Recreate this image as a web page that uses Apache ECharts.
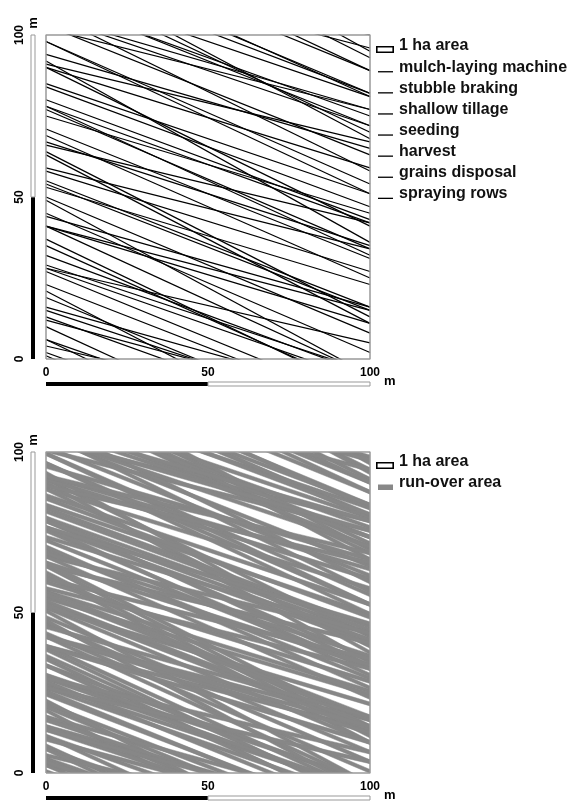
<!DOCTYPE html>
<html>
<head>
<meta charset="utf-8">
<script src="https://cdn.jsdelivr.net/npm/echarts@6/dist/echarts.min.js"></script>
<style>
  html, body { margin: 0; padding: 0; background: #fff; }
  #chart { width: 573px; height: 802px; }
</style>
</head>
<body>
<div id="chart"></div>
<script>
// track of each pass: y (m) where it enters at x = 0 and leaves at x = 100
const mulchStart = [143, 130, 117, 103, 90, 77, 63, 50, 37, 23, 10];
const mulchEnd = [93, 89, 70, 63, 41, 34, 11, 8, -11, -16, -36];
const stubbleStart = [137, 124, 111, 98, 85, 71, 58, 45, 32, 19, 6];
const stubbleEnd = [104, 82, 75, 54, 51, 31, 27, 2, -5, -22, -29];
const tillageStart = [127, 115, 102, 90, 78, 66, 53, 41, 29, 16, 4];
const tillageEnd = [100, 81, 77, 59, 42, 42, 23, 15, -4, -12, -19];
const seedingStart = [150, 136, 121, 107, 92, 78, 64, 49, 35, 21, 6];
const seedingEnd = [95, 89, 68, 58, 36, 32, 13, -5, -10, -31, -42];
const harvestStart = [141, 126, 112, 98, 84, 69, 55, 41, 27, 13, 1];
const harvestEnd = [103, 81, 72, 51, 47, 25, 16, -5, -14, -23, -42];
const grainsStart = [133, 120, 106, 94, 80, 67, 54, 41, 28, 15, 2];
const grainsEnd = [102, 82, 72, 65, 43, 35, 15, 11, -7, -18, -34];
const sprayStart = [122, 106, 91, 75, 59, 44, 28, 12];
const sprayEnd = [96, 77, 67, 45, 34, 16, 5, -15];

const opNames = ['mulch-laying machine', 'stubble braking', 'shallow tillage', 'seeding',
  'harvest', 'grains disposal', 'spraying rows'];
const opStarts = [mulchStart, stubbleStart, tillageStart, seedingStart, harvestStart, grainsStart, sprayStart];
const opEnds = [mulchEnd, stubbleEnd, tillageEnd, seedingEnd, harvestEnd, grainsEnd, sprayEnd];

// wheel tracks of a pass, offset (m) from the pass line, and half width (m) of one wheel track
const wheelOffsets = [-1.5, 1.5];
const wheelHalf = 0.6;

// 1 ha field boundary
const fieldX = [0, 100, 100, 0, 0];
const fieldY = [0, 0, 100, 100, 0];
const axisTicks = [0, 50, 100];

const FONT = 'Liberation Sans';
const chart = echarts.init(document.getElementById('chart'));

const rectIcon = 'path://M0,0 M0,7 L18,7 L18,14 L0,14 Z M1.6,8.6 L1.6,12.4 L16.4,12.4 L16.4,8.6 Z';
const lineIcon = 'path://M0,0 M2,11 L17,11 L17,12.3 L2,12.3 Z M18,14';
const areaIcon = 'path://M0,0 M2,8.5 L17,8.5 L17,14 L2,14 Z M18,14';

const grids = [
  { left: 46, top: 35, width: 324, height: 324 },
  { left: 46, top: 452, width: 324, height: 324 },
];

// every wheel track as [start, end] at x = 0 / x = 100
const wheelTracks = [];
opStarts.forEach((starts, k) => {
  starts.forEach((s, i) => {
    wheelOffsets.forEach((off) => wheelTracks.push([s + off, opEnds[k][i] + off]));
  });
});

const series = [];
opNames.forEach((name, k) => {
  series.push({
    name: name,
    type: 'lines',
    coordinateSystem: 'cartesian2d',
    xAxisIndex: 0,
    yAxisIndex: 0,
    clip: true,
    silent: true,
    lineStyle: { color: '#000', width: 1.2, opacity: 1 },
    data: opStarts[k].map((s, i) => ({ coords: [[0, s], [100, opEnds[k][i]]] })),
  });
});
series.push({
  name: 'run-over area',
  type: 'custom',
  coordinateSystem: 'cartesian2d',
  xAxisIndex: 1,
  yAxisIndex: 1,
  clip: true,
  silent: true,
  itemStyle: { color: '#878787' },
  data: wheelTracks,
  renderItem: function (params, api) {
    const s = api.value(0);
    const e = api.value(1);
    const pts = [
      api.coord([0, s - wheelHalf]),
      api.coord([100, e - wheelHalf]),
      api.coord([100, e + wheelHalf]),
      api.coord([0, s + wheelHalf]),
    ];
    return {
      type: 'polygon',
      shape: { points: pts },
      style: { fill: '#878787', stroke: '#878787', lineWidth: 0.5 },
    };
  },
});
[0, 1].forEach((g) => {
  series.push({
    name: '1 ha area',
    type: 'line',
    xAxisIndex: g,
    yAxisIndex: g,
    symbol: 'none',
    clip: false,
    silent: true,
    z: 5,
    lineStyle: { color: '#999', width: 1.5 },
    data: fieldX.map((x, i) => [x, fieldY[i]]),
  });
});

const legendText = { fontSize: 16, fontWeight: 'bold', color: '#111', fontFamily: FONT, lineHeight: 14 };

const option = {
  animation: false,
  textStyle: { fontFamily: FONT },
  grid: grids,
  xAxis: grids.map((g, i) => ({
    type: 'value',
    gridIndex: i,
    min: 0,
    max: 100,
    interval: 50,
    splitLine: { show: false },
    axisLine: { show: false },
    axisTick: { show: false },
    axisLabel: { fontSize: 12, fontWeight: 'bold', color: '#000', margin: 8 },
    name: 'm',
    nameLocation: 'end',
    nameGap: 6,
    nameTextStyle: { fontSize: 13, fontWeight: 'bold', color: '#000', verticalAlign: 'top', padding: [16, 0, 0, 0] },
  })),
  yAxis: grids.map((g, i) => ({
    type: 'value',
    gridIndex: i,
    min: 0,
    max: 100,
    interval: 50,
    splitLine: { show: false },
    axisLine: { show: false },
    axisTick: { show: false },
    axisLabel: { fontSize: 12, fontWeight: 'bold', color: '#000', rotate: 90, margin: 20 },
  })),
  legend: [
    {
      orient: 'vertical',
      left: 376,
      top: 38,
      padding: 0,
      itemWidth: 18,
      itemHeight: 14,
      itemGap: 5.1,
      selectedMode: false,
      textStyle: legendText,
      data: [{ name: '1 ha area', icon: rectIcon, itemStyle: { color: '#000', borderWidth: 0 } }]
        .concat(opNames.map((n) => ({ name: n, icon: lineIcon, itemStyle: { color: '#000', borderWidth: 0 } }))),
    },
    {
      orient: 'vertical',
      left: 376,
      top: 454,
      padding: 0,
      itemWidth: 18,
      itemHeight: 14,
      itemGap: 5,
      selectedMode: false,
      textStyle: legendText,
      data: [
        { name: '1 ha area', icon: rectIcon, itemStyle: { color: '#000', borderWidth: 0 } },
        { name: 'run-over area', icon: areaIcon, itemStyle: { color: '#888', borderWidth: 0 } },
      ],
    },
  ],
  series: series,
};
chart.setOption(option);

// scale bars along the left and bottom of each panel (black 0-50, white 50-100)
const graphics = [];
[0, 1].forEach((g) => {
  for (let i = 0; i < axisTicks.length - 1; i++) {
    const a = chart.convertToPixel({ gridIndex: g }, [axisTicks[i], axisTicks[i]]);
    const b = chart.convertToPixel({ gridIndex: g }, [axisTicks[i + 1], axisTicks[i + 1]]);
    const origin = chart.convertToPixel({ gridIndex: g }, [0, 0]);
    const black = i === 0;
    const style = black ? { fill: '#000' } : { fill: '#fff', stroke: '#999', lineWidth: 1 };
    graphics.push({
      type: 'rect',
      shape: { x: origin[0] - 15, y: b[1], width: 4, height: a[1] - b[1] },
      style: style,
    });
    graphics.push({
      type: 'rect',
      shape: { x: a[0], y: origin[1] + 23, width: b[0] - a[0], height: 4 },
      style: style,
    });
  }
  const top = chart.convertToPixel({ gridIndex: g }, [0, 100]);
  graphics.push({
    type: 'text',
    x: top[0] - 13,
    y: top[1] - 12,
    rotation: Math.PI / 2,
    style: { text: 'm', font: 'bold 13px ' + FONT, fill: '#000', align: 'center', verticalAlign: 'middle' },
  });
});
chart.setOption({ graphic: graphics });
</script>
</body>
</html>
